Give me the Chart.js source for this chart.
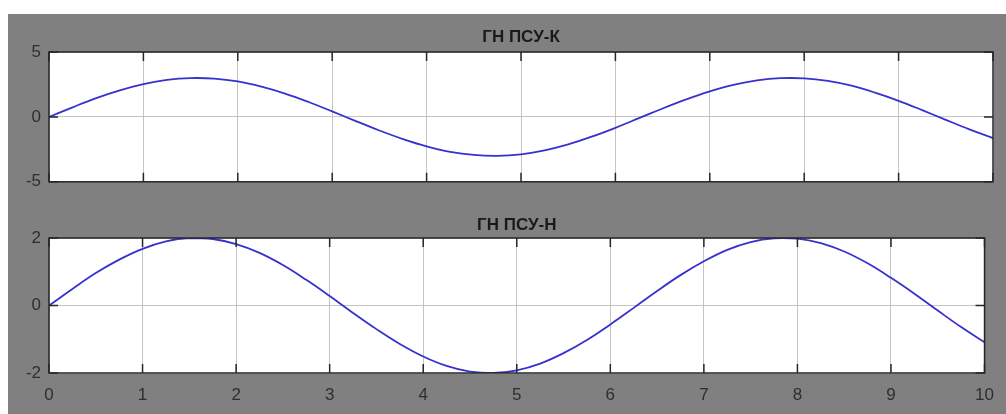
<!DOCTYPE html>
<html>
<head>
<meta charset="utf-8">
<script src="https://cdn.jsdelivr.net/npm/chart.js@4.4.1/dist/chart.umd.min.js"></script>
<style>
    html, body { margin: 0; padding: 0; background: #ffffff; }
    #page { position: relative; width: 1006px; height: 414px; overflow: hidden; }
    #figure { position: absolute; left: 8px; top: 14px; width: 998px; height: 400px; background: #808080; }
    canvas { position: absolute; left: 0; }
    #topCanvas { top: 0; }
    #bottomCanvas { top: 200px; }
</style>
</head>
<body>
<div id="page">
    <div id="figure"></div>
    <canvas id="topCanvas" width="1006" height="200"></canvas>
    <canvas id="bottomCanvas" width="1006" height="214"></canvas>
</div>
<script>
// time axis (same for both plots)
const timeValues = [0, 0.25, 0.5, 0.75, 1, 1.25, 1.5, 1.75, 2, 2.25, 2.5, 2.75, 3, 3.25, 3.5, 3.75,
    4, 4.25, 4.5, 4.75, 5, 5.25, 5.5, 5.75, 6, 6.25, 6.5, 6.75, 7, 7.25, 7.5, 7.75,
    8, 8.25, 8.5, 8.75, 9, 9.25, 9.5, 9.75, 10];

// ГН ПСУ-К
const psuK = [0, 0.74, 1.44, 2.04, 2.52, 2.85, 2.99, 2.95, 2.73, 2.33, 1.80, 1.15, 0.42, -0.32, -1.05, -1.71,
    -2.27, -2.69, -2.93, -3.00, -2.88, -2.58, -2.12, -1.52, -0.84, -0.10, 0.65, 1.35, 1.97, 2.47, 2.81, 2.98,
    2.97, 2.77, 2.40, 1.87, 1.24, 0.52, -0.23, -0.96, -1.63];
// ГН ПСУ-Н
const psuN = [0, 0.49, 0.96, 1.36, 1.68, 1.90, 2.00, 1.97, 1.82, 1.56, 1.20, 0.76, 0.28, -0.22, -0.70, -1.14,
    -1.51, -1.79, -1.96, -2.00, -1.92, -1.72, -1.41, -1.02, -0.56, -0.07, 0.43, 0.90, 1.31, 1.65, 1.88, 1.99,
    1.98, 1.85, 1.60, 1.25, 0.82, 0.35, -0.15, -0.64, -1.09];

const xTicks = [0, 1, 2, 3, 4, 5, 6, 7, 8, 9, 10];
const topYTicks = [-5, 0, 5];
const bottomYTicks = [-2, 0, 2];

const titles = ['ГН ПСУ-К', 'ГН ПСУ-Н'];

const FONT = 'Liberation Sans, Arial, sans-serif';
const TEXT_COLOR = '#2e2e2e';

// box around the axes + short inward tick marks on all four sides
const axesBox = {
    id: 'axesBox',
    afterDraw(chart) {
        const {ctx, chartArea: a, scales} = chart;
        const len = 9;
        ctx.save();
        ctx.strokeStyle = '#262626';
        ctx.lineWidth = 1.5;
        ctx.beginPath();
        scales.x.ticks.forEach(t => {
            const px = scales.x.getPixelForValue(t.value);
            ctx.moveTo(px, a.top);
            ctx.lineTo(px, a.top + len);
            ctx.moveTo(px, a.bottom);
            ctx.lineTo(px, a.bottom - len);
        });
        scales.y.ticks.forEach(t => {
            const py = scales.y.getPixelForValue(t.value);
            ctx.moveTo(a.left, py);
            ctx.lineTo(a.left + len, py);
            ctx.moveTo(a.right, py);
            ctx.lineTo(a.right - len, py);
        });
        ctx.stroke();
        ctx.strokeRect(a.left, a.top, a.right - a.left, a.bottom - a.top);
        ctx.restore();
    }
};

// white plot area
const plotBackground = {
    id: 'plotBackground',
    beforeDraw(chart) {
        const {ctx, chartArea: a} = chart;
        ctx.save();
        ctx.fillStyle = '#ffffff';
        ctx.fillRect(a.left, a.top, a.right - a.left, a.bottom - a.top);
        ctx.restore();
    }
};

const makeChart = (canvasId, title, values, yTicks, opts) => {
    const ctx = document.getElementById(canvasId).getContext('2d');
    return new Chart(ctx, {
        type: 'line',
        data: {
            datasets: [{
                data: timeValues.map((t, i) => ({x: t, y: values[i]})),
                borderColor: 'rgb(55,50,205)',
                borderWidth: 1.8,
                pointRadius: 0,
                tension: 0.4,
                fill: false
            }]
        },
        options: {
            responsive: false,
            animation: false,
            devicePixelRatio: 1,
            layout: {padding: opts.padding},
            plugins: {
                legend: {display: false},
                tooltip: {enabled: false},
                title: {
                    display: true,
                    text: title,
                    fullSize: false,
                    color: '#1a1a1a',
                    font: {family: FONT, size: 17, weight: 'bold'},
                    padding: opts.titlePadding
                }
            },
            scales: {
                x: {
                    type: 'linear',
                    min: 0,
                    max: 10,
                    afterBuildTicks: scale => { scale.ticks = xTicks.map(v => ({value: v})); },
                    afterFit: scale => { scale.height = opts.xHeight; },
                    grid: {color: '#c4c4c4', lineWidth: 1, drawTicks: false},
                    border: {display: false},
                    ticks: {
                        display: opts.showX,
                        padding: 12,
                        color: TEXT_COLOR,
                        font: {family: FONT, size: 17},
                        maxRotation: 0
                    }
                },
                y: {
                    type: 'linear',
                    min: yTicks[0],
                    max: yTicks[yTicks.length - 1],
                    afterBuildTicks: scale => { scale.ticks = yTicks.map(v => ({value: v})); },
                    afterFit: scale => { scale.width = 49; },
                    grid: {color: '#c4c4c4', lineWidth: 1, drawTicks: false},
                    border: {display: false},
                    ticks: {
                        padding: 8,
                        color: TEXT_COLOR,
                        font: {family: FONT, size: 17}
                    }
                }
            }
        },
        plugins: [plotBackground, axesBox]
    });
};

makeChart('topCanvas', titles[0], psuK, topYTicks, {
    padding: {top: 27, right: 13, bottom: 14, left: 0},
    titlePadding: {top: 0, bottom: 4.6},
    xHeight: 0,
    showX: false
});

makeChart('bottomCanvas', titles[1], psuN, bottomYTicks, {
    padding: {top: 15, right: 13, bottom: 0, left: 0},
    titlePadding: {top: 0, bottom: 2.6},
    xHeight: 41,
    showX: true
});
</script>
</body>
</html>
